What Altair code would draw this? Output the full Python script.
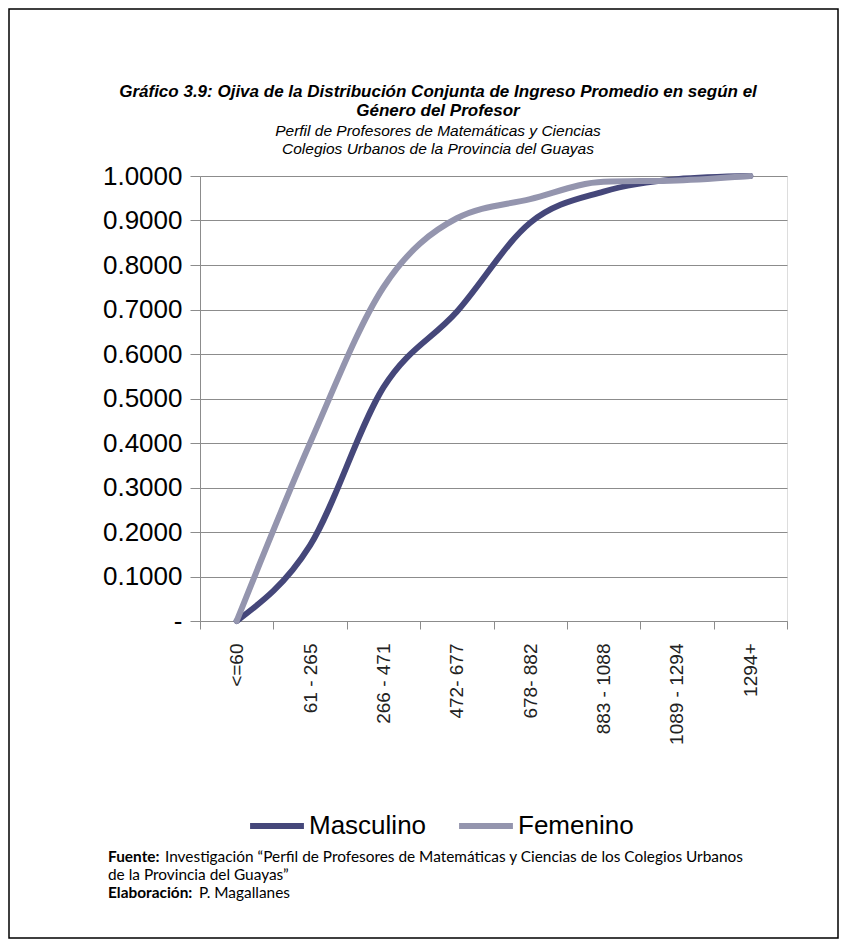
import altair as alt
import pandas as pd

# ---- data ----
categories = ["<=60", "61 - 265", "266 - 471", "472- 677", "678- 882",
              "883 - 1088", "1089 - 1294", "1294+"]
masculino = [0.0, 0.17, 0.525, 0.695, 0.895, 0.965, 0.993, 1.0]
femenino = [0.0, 0.40, 0.75, 0.905, 0.948, 0.987, 0.99, 1.0]
series = ["Masculino", "Femenino"]
series_colors = ["#45477a", "#9495ae"]
y_ticks = [0.0, 0.1, 0.2, 0.3, 0.4, 0.5, 0.6, 0.7, 0.8, 0.9, 1.0]

title_lines = ["Gráfico 3.9: Ojiva de la Distribución Conjunta de Ingreso Promedio en según el",
               "Género del Profesor"]
subtitle_lines = ["Perfil de Profesores de Matemáticas y Ciencias",
                  "Colegios Urbanos de la Provincia del Guayas"]

rows = []
for c, m in zip(categories, masculino):
    rows.append({"rango": c, "genero": "Masculino", "valor": m})
for c, f in zip(categories, femenino):
    rows.append({"rango": c, "genero": "Femenino", "valor": f})
df = pd.DataFrame(rows)

W, H = 587, 445
PAD_L, PAD_T = 192, 168
TOTAL_W, TOTAL_H = 831, 931
PAD_R = TOTAL_W - PAD_L - W
PAD_B = TOTAL_H - PAD_T - H

NB = "\u00a0"

lines = alt.Chart(df).mark_line(strokeWidth=6, interpolate="monotone", strokeCap="round").encode(
    x=alt.X("rango:N", sort=categories, bandPosition=0.5,
            scale=alt.Scale(type="band", paddingInner=0, paddingOuter=0),
            axis=alt.Axis(title=None, labelAngle=-90, labelFontSize=19,
                          labelFont="Liberation Sans", labelColor="#222222",
                          tickBand="extent", tickSize=8, tickColor="#8c8c8c",
                          domainColor="#8c8c8c", labelPadding=14, grid=False,
                          labelLimit=200)),
    y=alt.Y("valor:Q", scale=alt.Scale(domain=[0, 1], nice=False, zero=True),
            axis=alt.Axis(title=None, values=y_ticks,
                          labelExpr="datum.value == 0 ? '-" + NB * 4 + "' : format(datum.value, '.4f')",
                          labelFontSize=26, labelFont="Liberation Sans", labelColor="#000000",
                          tickSize=10, tickColor="#8c8c8c", domainColor="#8c8c8c",
                          gridColor="#8c8c8c", labelPadding=8)),
    color=alt.Color("genero:N", sort=series,
                    scale=alt.Scale(domain=series, range=series_colors),
                    legend=alt.Legend(title=None, orient="none", legendX=47, legendY=620,
                                      direction="horizontal", symbolType="stroke",
                                      symbolStrokeWidth=6, symbolSize=2900,
                                      labelFontSize=26, labelFont="Liberation Sans",
                                      labelColor="#000000", columnPadding=20,
                                      labelOffset=2, labelLimit=300)),
)

one = alt.Data(values=[{"k": 1}])
border = alt.Chart(one).mark_rect(fill=None, stroke="#000000", strokeWidth=1.5).encode(
    x=alt.value(-PAD_L + 1), x2=alt.value(W + PAD_R - 1),
    y=alt.value(-PAD_T + 1), y2=alt.value(H + PAD_B - 1),
)


def txt(text, x, y, bold=False, size=15.4, font="Lato", align="left", italic=False):
    return alt.Chart(one).mark_text(
        text=text, align=align, baseline="alphabetic", font=font,
        fontSize=size, fontWeight="bold" if bold else "normal",
        fontStyle="italic" if italic else "normal", color="#000000"
    ).encode(x=alt.value(x), y=alt.value(y))


TX = 238
t1 = txt(title_lines[0], TX, -79, bold=True, size=17, font="Liberation Sans", align="center", italic=True)
t2 = txt(title_lines[1], TX, -60, bold=True, size=17, font="Liberation Sans", align="center", italic=True)
s1 = txt(subtitle_lines[0], TX, -40, size=15.5, font="Liberation Sans", align="center", italic=True)
s2 = txt(subtitle_lines[1], TX, -22, size=15.5, font="Liberation Sans", align="center", italic=True)

fx = -92
f1 = txt("Fuente:", fx, 686, True)
f1b = txt("Investigación “Perfil de Profesores de Matemáticas y Ciencias de los Colegios Urbanos", fx + 57, 686)
f2 = txt("de la Provincia del Guayas”", fx, 704)
f3 = txt("Elaboración:", fx, 722, True)
f3b = txt("P. Magallanes", fx + 91, 722)

chart = alt.layer(border, lines, t1, t2, s1, s2, f1, f1b, f2, f3, f3b).properties(
    width=W, height=H,
    autosize=alt.AutoSizeParams(type="none"),
    padding={"left": PAD_L, "top": PAD_T, "right": PAD_R, "bottom": PAD_B},
).configure_view(stroke=None).configure(background="white")

chart.save("out.html", embed_options={"renderer": "svg", "actions": False})
